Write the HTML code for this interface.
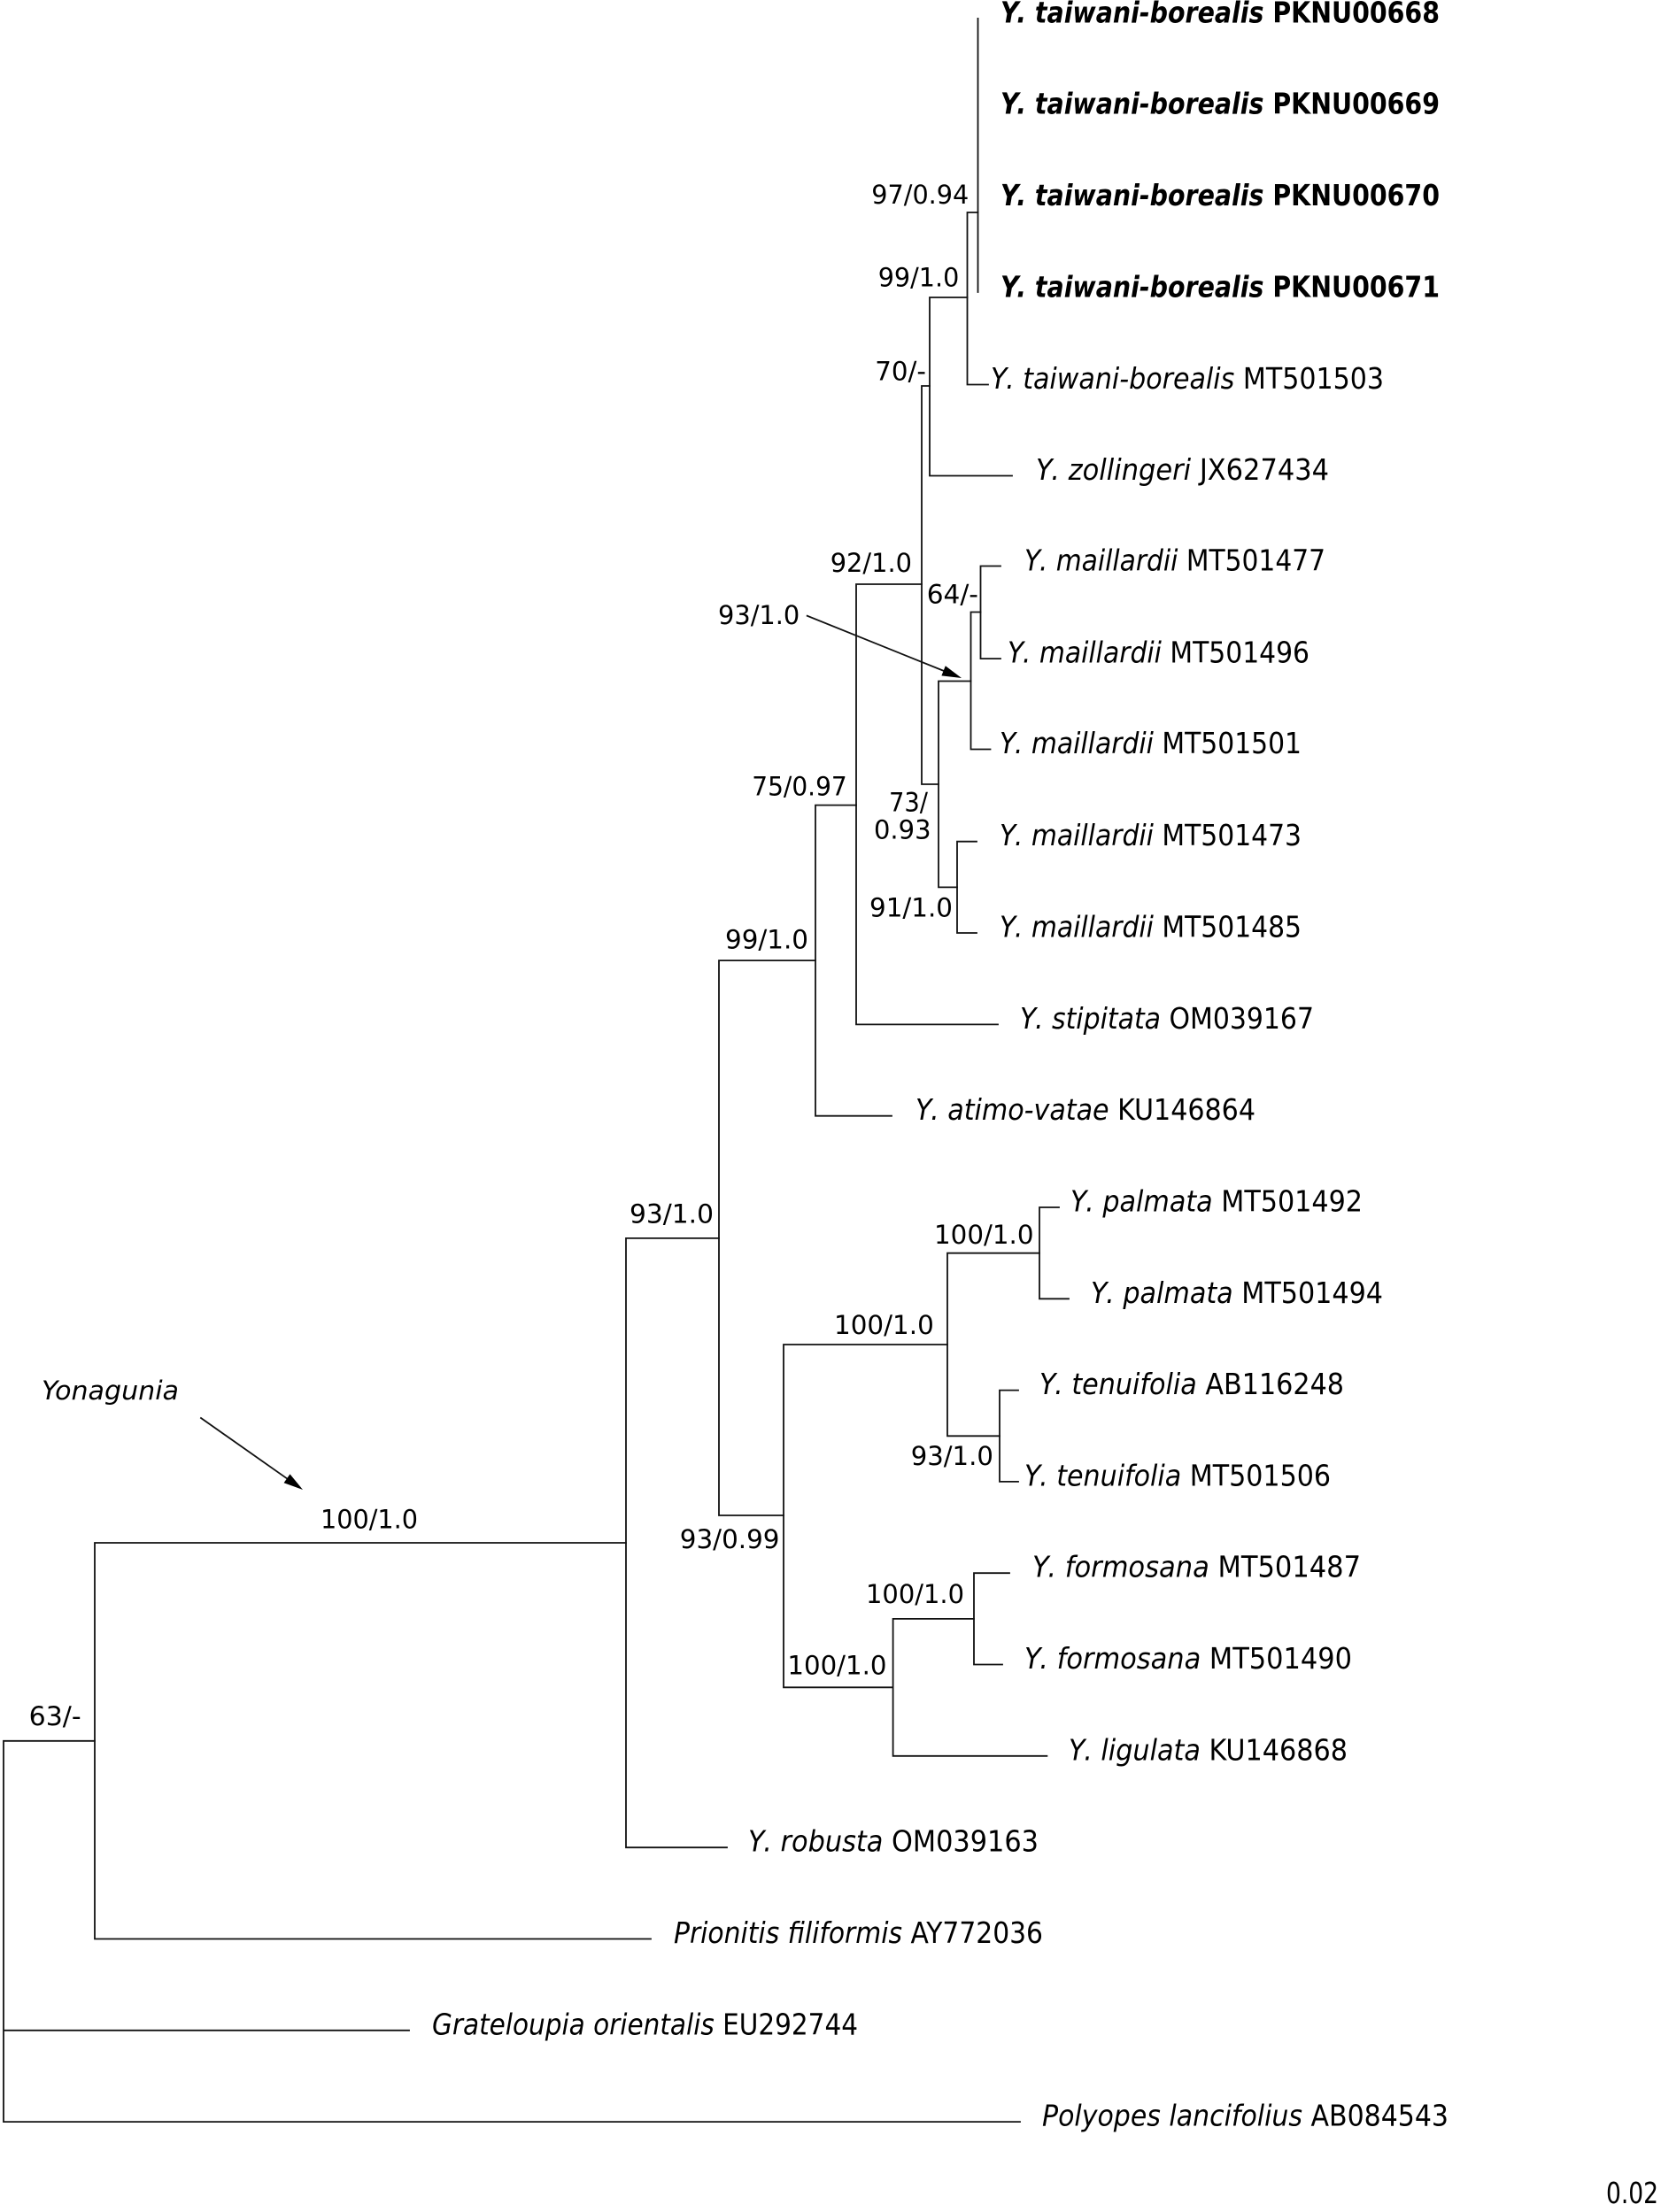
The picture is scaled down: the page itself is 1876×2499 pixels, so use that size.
<!DOCTYPE html>
<html>
<head>
<meta charset="utf-8">
<style>
html,body{margin:0;padding:0;background:#fff;}
svg{display:block;}
.lf{font-family:"DejaVu Sans Condensed","DejaVu Sans","Liberation Sans",sans-serif;font-stretch:condensed;font-size:33px;fill:#000;}
.sp{font-family:"DejaVu Sans","Liberation Sans",sans-serif;font-size:29.5px;fill:#000;}
</style>
</head>
<body>
<svg width="1876" height="2499" viewBox="0 0 1876 2499" xmlns="http://www.w3.org/2000/svg">
<rect x="0" y="0" width="1876" height="2499" fill="#fff"/>
<g fill="none" stroke="#111" stroke-width="1.8" stroke-linecap="square">
<path d="M4,1966.8 V2397.1 M4,1966.8 H107 M4,2293.8 H462 M4,2397.1 H1152"/>
<path d="M107,1743 V2190.5 M107,1743 H707 M107,2190.5 H735"/>
<path d="M707,1398.9 V2087.2 M707,1398.9 H812 M707,2087.2 H821"/>
<path d="M812,1085.1 V1712 M812,1085.1 H921 M812,1712 H885"/>
<path d="M885,1519 V1906.3 M885,1519 H1070 M885,1906.3 H1008.6"/>
<path d="M1070,1415.7 V1622.3 M1070,1415.7 H1174 M1070,1622.3 H1129"/>
<path d="M1174,1364 V1467.3 M1174,1364 H1196 M1174,1467.3 H1207"/>
<path d="M1129,1570.6 V1673.9 M1129,1570.6 H1150 M1129,1673.9 H1150"/>
<path d="M1008.6,1828.9 V1983.8 M1008.6,1828.9 H1100 M1008.6,1983.8 H1182.4"/>
<path d="M1100,1777.2 V1880.5 M1100,1777.2 H1140 M1100,1880.5 H1132"/>
<path d="M921,909.6 V1260.7 M921,909.6 H967 M921,1260.7 H1007"/>
<path d="M967,660 V1157.4 M967,660 H1041 M967,1157.4 H1127"/>
<path d="M1041,436 V886 M1041,436 H1050 M1041,886 H1060"/>
<path d="M1050,336 V537.5 M1050,336 H1092.5 M1050,537.5 H1143"/>
<path d="M1092.5,240 V434.5 M1092.5,240 H1104.5 M1092.5,434.5 H1116"/>
<path d="M1104.5,20.9 V330"/>
<path d="M1060,769.5 V1002.4 M1060,769.5 H1096.5 M1060,1002.4 H1081"/>
<path d="M1096.5,691.5 V846.5 M1096.5,691.5 H1107.5 M1096.5,846.5 H1118.5"/>
<path d="M1107.5,639.5 V744.1 M1107.5,639.5 H1130 M1107.5,744.1 H1130"/>
<path d="M1081,950.7 V1054 M1081,950.7 H1103 M1081,1054 H1103"/>
<path d="M911.7,695.7 L1065.6,757.8"/>
<path d="M227,1602 L324,1670.3"/>
</g>
<g fill="#000" stroke="none">
<polygon points="1086,766 1063.4,763.4 1067.8,752.2"/>
<polygon points="342,1683 320.6,1675.2 327.5,1665.4"/>
</g>

<g class="lf">
<text x="1130" y="25.4" textLength="496" lengthAdjust="spacingAndGlyphs" font-weight="bold"><tspan font-style="italic">Y<tspan dx="3">.</tspan> taiwani-borealis</tspan> PKNU00668</text>
<text x="1130" y="128.7" textLength="496" lengthAdjust="spacingAndGlyphs" font-weight="bold"><tspan font-style="italic">Y<tspan dx="3">.</tspan> taiwani-borealis</tspan> PKNU00669</text>
<text x="1130" y="232" textLength="496" lengthAdjust="spacingAndGlyphs" font-weight="bold"><tspan font-style="italic">Y<tspan dx="3">.</tspan> taiwani-borealis</tspan> PKNU00670</text>
<text x="1130" y="335.3" textLength="496" lengthAdjust="spacingAndGlyphs" font-weight="bold"><tspan font-style="italic">Y<tspan dx="3">.</tspan> taiwani-borealis</tspan> PKNU00671</text>
<text x="1119" y="438.9" textLength="444" lengthAdjust="spacingAndGlyphs"><tspan font-style="italic">Y<tspan dx="3">.</tspan> taiwani-borealis</tspan> MT501503</text>
<text x="1170" y="542" textLength="331" lengthAdjust="spacingAndGlyphs"><tspan font-style="italic">Y<tspan dx="3">.</tspan> zollingeri</tspan> JX627434</text>
<text x="1157" y="644.3" textLength="340" lengthAdjust="spacingAndGlyphs"><tspan font-style="italic">Y<tspan dx="3">.</tspan> maillardii</tspan> MT501477</text>
<text x="1138" y="748.6" textLength="341" lengthAdjust="spacingAndGlyphs"><tspan font-style="italic">Y<tspan dx="3">.</tspan> maillardii</tspan> MT501496</text>
<text x="1129" y="851.2" textLength="341" lengthAdjust="spacingAndGlyphs"><tspan font-style="italic">Y<tspan dx="3">.</tspan> maillardii</tspan> MT501501</text>
<text x="1129" y="955.2" textLength="341" lengthAdjust="spacingAndGlyphs"><tspan font-style="italic">Y<tspan dx="3">.</tspan> maillardii</tspan> MT501473</text>
<text x="1129" y="1058.5" textLength="341" lengthAdjust="spacingAndGlyphs"><tspan font-style="italic">Y<tspan dx="3">.</tspan> maillardii</tspan> MT501485</text>
<text x="1152" y="1161.9" textLength="332" lengthAdjust="spacingAndGlyphs"><tspan font-style="italic">Y<tspan dx="3">.</tspan> stipitata</tspan> OM039167</text>
<text x="1034" y="1265.2" textLength="384" lengthAdjust="spacingAndGlyphs"><tspan font-style="italic">Y<tspan dx="3">.</tspan> atimo-vatae</tspan> KU146864</text>
<text x="1209" y="1368.5" textLength="330" lengthAdjust="spacingAndGlyphs"><tspan font-style="italic">Y<tspan dx="3">.</tspan> palmata</tspan> MT501492</text>
<text x="1232" y="1471.8" textLength="330" lengthAdjust="spacingAndGlyphs"><tspan font-style="italic">Y<tspan dx="3">.</tspan> palmata</tspan> MT501494</text>
<text x="1174" y="1575.1" textLength="344" lengthAdjust="spacingAndGlyphs"><tspan font-style="italic">Y<tspan dx="3">.</tspan> tenuifolia</tspan> AB116248</text>
<text x="1157" y="1678.4" textLength="346" lengthAdjust="spacingAndGlyphs"><tspan font-style="italic">Y<tspan dx="3">.</tspan> tenuifolia</tspan> MT501506</text>
<text x="1166" y="1781.7" textLength="371" lengthAdjust="spacingAndGlyphs"><tspan font-style="italic">Y<tspan dx="3">.</tspan> formosana</tspan> MT501487</text>
<text x="1157" y="1885" textLength="370" lengthAdjust="spacingAndGlyphs"><tspan font-style="italic">Y<tspan dx="3">.</tspan> formosana</tspan> MT501490</text>
<text x="1207" y="1988.3" textLength="315" lengthAdjust="spacingAndGlyphs"><tspan font-style="italic">Y<tspan dx="3">.</tspan> ligulata</tspan> KU146868</text>
<text x="845" y="2091.7" textLength="328" lengthAdjust="spacingAndGlyphs"><tspan font-style="italic">Y<tspan dx="3">.</tspan> robusta</tspan> OM039163</text>
<text x="761" y="2195" textLength="417" lengthAdjust="spacingAndGlyphs"><tspan font-style="italic">Prionitis filiformis</tspan> AY772036</text>
<text x="488" y="2298.3" textLength="481" lengthAdjust="spacingAndGlyphs"><tspan font-style="italic">Grateloupia orientalis</tspan> EU292744</text>
<text x="1177" y="2401.6" textLength="459" lengthAdjust="spacingAndGlyphs"><tspan font-style="italic">Polyopes lancifolius</tspan> AB084543</text>
<text x="1814" y="2489" textLength="59" lengthAdjust="spacingAndGlyphs">0.02</text>
</g>

<g class="sp">
<text x="984.3" y="230" textLength="110" lengthAdjust="spacingAndGlyphs">97/0.94</text>
<text x="991.7" y="323.3" textLength="91.6" lengthAdjust="spacingAndGlyphs">99/1.0</text>
<text x="988.3" y="429.3" textLength="57.7" lengthAdjust="spacingAndGlyphs">70/-</text>
<text x="937.7" y="646" textLength="92.3" lengthAdjust="spacingAndGlyphs">92/1.0</text>
<text x="1046.7" y="681.7" textLength="58.3" lengthAdjust="spacingAndGlyphs">64/-</text>
<text x="811" y="705" textLength="92.3" lengthAdjust="spacingAndGlyphs">93/1.0</text>
<text x="849.3" y="898.3" textLength="107.4" lengthAdjust="spacingAndGlyphs">75/0.97</text>
<text x="1004" y="916.7" textLength="44" lengthAdjust="spacingAndGlyphs">73/</text>
<text x="987" y="947.7" textLength="64.5" lengthAdjust="spacingAndGlyphs">0.93</text>
<text x="982" y="1035.7" textLength="94" lengthAdjust="spacingAndGlyphs">91/1.0</text>
<text x="819" y="1071.5" textLength="94" lengthAdjust="spacingAndGlyphs">99/1.0</text>
<text x="711" y="1381.5" textLength="95" lengthAdjust="spacingAndGlyphs">93/1.0</text>
<text x="1055" y="1405" textLength="112.5" lengthAdjust="spacingAndGlyphs">100/1.0</text>
<text x="942" y="1507" textLength="112.8" lengthAdjust="spacingAndGlyphs">100/1.0</text>
<text x="1028.7" y="1655" textLength="93.2" lengthAdjust="spacingAndGlyphs">93/1.0</text>
<text x="767.8" y="1749" textLength="112.7" lengthAdjust="spacingAndGlyphs">93/0.99</text>
<text x="978" y="1811" textLength="111" lengthAdjust="spacingAndGlyphs">100/1.0</text>
<text x="889.4" y="1891.5" textLength="112.1" lengthAdjust="spacingAndGlyphs">100/1.0</text>
<text x="362" y="1726.4" textLength="110" lengthAdjust="spacingAndGlyphs">100/1.0</text>
<text x="32.7" y="1949" textLength="59" lengthAdjust="spacingAndGlyphs">63/-</text>
<text x="47" y="1581" textLength="155" lengthAdjust="spacingAndGlyphs" font-style="italic">Yonagunia</text>
</g>
</svg>
</body>
</html>
